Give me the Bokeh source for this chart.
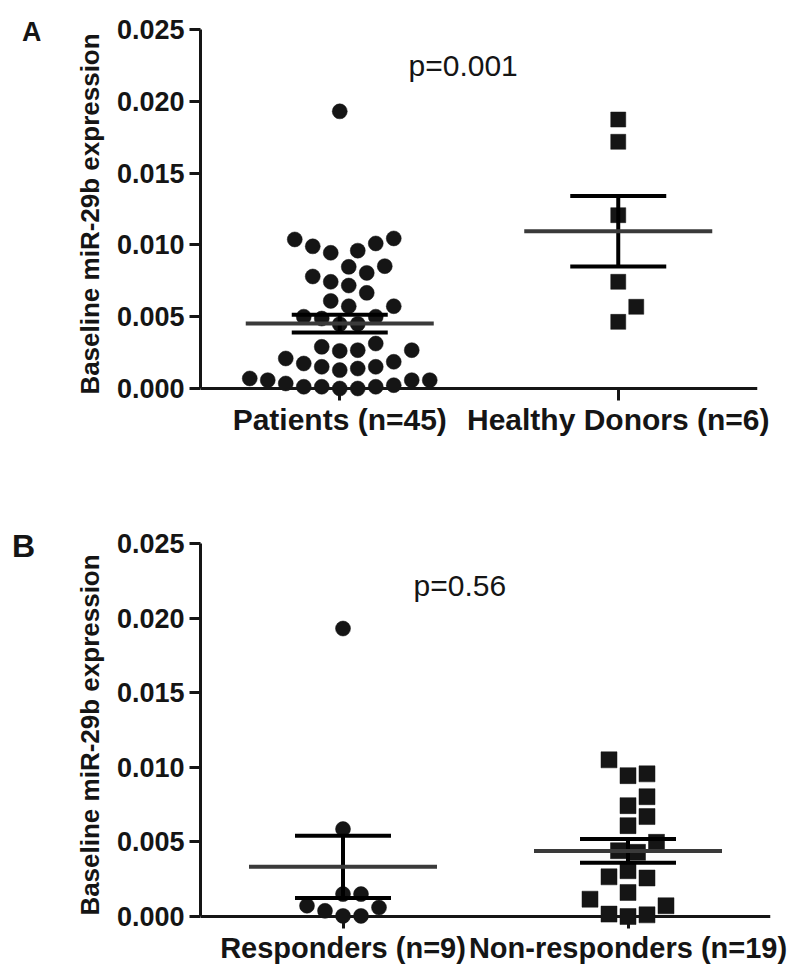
import math
from bokeh.plotting import figure
from bokeh.models import FixedTicker, PrintfTickFormatter, Span, Label, ColumnDataSource, Div
from bokeh.layouts import column, row
from bokeh.embed import file_html
from bokeh.resources import INLINE

# ---------------- data ----------------
y_ticks = [0.000, 0.005, 0.010, 0.015, 0.020, 0.025]
y_label = "Baseline miR-29b expression"

a_groups = ["Patients (n=45)", "Healthy Donors (n=6)"]
patients = [0.0193, 0.01045, 0.0101, 0.0096, 0.00945, 0.0099, 0.01038,
            0.00847, 0.0078, 0.00717, 0.00743, 0.00805, 0.00852, 0.00666,
            0.00573, 0.00573, 0.0061, 0.0050, 0.0045, 0.00448, 0.00487, 0.0050,
            0.00267, 0.00209, 0.0029, 0.00313, 0.00186, 0.00262, 0.00267,
            0.00139, 0.00174, 0.00151, 0.00128, 0.00151,
            0.00058, 0.00012, 0.0007, 0.00012, 0.00058, 0.0, 0.00035,
            0.00012, 0.0, 0.00023, 0.00058]
healthy = [0.01873, 0.01718, 0.01207, 0.00743, 0.00569, 0.00464]
a_pvalue = "p=0.001"

b_groups = ["Responders (n=9)", "Non-responders (n=19)"]
responders = [0.0193, 0.00586, 0.0015, 0.0015, 0.00072, 0.0006, 0.00038,
              0.00004, 0.00004]
nonresponders = [0.0105, 0.00956, 0.00944, 0.00803, 0.00743, 0.0067, 0.00609,
                 0.00497, 0.00441, 0.0043, 0.00307, 0.00258, 0.00266, 0.00116,
                 0.00161, 0.00072, 0.00016, 0.0, 0.00011]
b_pvalue = "p=0.56"

FONT = "Liberation Sans"
INK = "#151515"
DIV_W = 40


def swarm(vals, ppx, ppy, dmin, step):
    n = len(vals)
    order = sorted(range(n), key=lambda i: vals[i])
    cands = [0.0]
    for k in range(1, 80):
        cands += [k * step, -k * step]
    placed = []
    offs = [0.0] * n
    for i in order:
        yy = vals[i] * ppy
        chosen = cands[-1]
        for c in cands:
            if all((c - px) ** 2 + (yy - py) ** 2 >= dmin ** 2 for px, py in placed):
                chosen = c
                break
        placed.append((chosen, yy))
        offs[i] = chosen / ppx
    return offs


def mean_sem(v):
    n = len(v)
    m = sum(v) / n
    sd = math.sqrt(sum((x - m) ** 2 for x in v) / (n - 1))
    return m, sd / math.sqrt(n)


def make_panel(groups, series, markers, msize, pvalue, p_px, xlab_size,
               frame_w, span_px, top, bottom, right, label_standoff):
    ppy = span_px / 0.025
    ppx = frame_w / 2.0
    pad = 10
    p = figure(frame_width=frame_w, frame_height=span_px + pad,
               x_range=(0.5, 2.5), y_range=(-pad / ppy, 0.025),
               output_backend="svg", toolbar_location=None,
               min_border_left=200 - DIV_W, min_border_right=right,
               min_border_top=top, min_border_bottom=bottom)
    p.outline_line_color = None
    p.xgrid.visible = False
    p.ygrid.visible = False
    p.background_fill_color = "white"
    p.border_fill_color = "white"

    # y axis
    ya = p.yaxis[0]
    ya.ticker = FixedTicker(ticks=y_ticks)
    ya.formatter = PrintfTickFormatter(format="%.3f")
    ya.bounds = (0, 0.025)
    ya.axis_line_width = 3
    ya.axis_line_color = INK
    ya.major_tick_line_width = 3
    ya.major_tick_line_color = INK
    ya.major_tick_out = 11
    ya.major_tick_in = 0
    ya.minor_tick_line_color = None
    ya.major_label_text_font = FONT
    ya.major_label_text_font_style = "bold"
    ya.major_label_text_font_size = "27px"
    ya.major_label_text_color = INK
    ya.major_label_standoff = 5
    ya.axis_label = y_label
    ya.axis_label_text_font = FONT
    ya.axis_label_text_font_style = "bold"
    ya.axis_label_text_font_size = "26px"
    ya.axis_label_text_color = INK
    ya.axis_label_standoff = 9

    # x axis
    xa = p.xaxis[0]
    xa.ticker = FixedTicker(ticks=[1, 2])
    xa.major_label_overrides = {1: groups[0], 2: groups[1]}
    xa.axis_line_color = None
    xa.major_tick_line_width = 3
    xa.major_tick_line_color = INK
    xa.major_tick_in = pad
    xa.major_tick_out = 2
    xa.minor_tick_line_color = None
    xa.major_label_text_font = FONT
    xa.major_label_text_font_style = "bold"
    xa.major_label_text_font_size = xlab_size
    xa.major_label_text_color = INK
    xa.major_label_standoff = label_standoff

    p.add_layout(Span(location=0, dimension="width", line_color=INK, line_width=3))

    for gi, (vals, mk, ms) in enumerate(zip(series, markers, msize)):
        pos = gi + 1
        offs = swarm(vals, ppx, ppy, dmin=ms + 3, step=(ms + 3) / 2.0)
        src = ColumnDataSource(dict(x=[pos + o for o in offs], y=vals))
        p.scatter("x", "y", source=src, marker=mk, size=ms,
                  fill_color=INK, line_color=INK, line_width=0.5)

    for gi, vals in enumerate(series):
        pos = gi + 1
        m, s = mean_sem(vals)
        mean_half = 94 / ppx
        cap_half = 48 / ppx
        seg = ColumnDataSource(dict(
            x0=[pos - cap_half, pos - cap_half, pos],
            x1=[pos + cap_half, pos + cap_half, pos],
            y0=[m + s, m - s, m - s],
            y1=[m + s, m - s, m + s]))
        p.segment("x0", "y0", "x1", "y1", source=seg, line_color="black", line_width=4)
        p.segment(x0=[pos - mean_half], y0=[m], x1=[pos + mean_half], y1=[m],
                  line_color="#3a3a3a", line_width=4)

    # p-value text (pixel offset from frame left / from y = 0)
    p.add_layout(Label(x=0.5 + p_px[0] / ppx, y=p_px[1] / ppy, text=pvalue,
                       text_font=FONT, text_font_size="30px",
                       text_color=INK, text_align="left", text_baseline="alphabetic"))
    return p


def letter_div(letter, size, pad_left, pad_top, height):
    html = ('<div style="font-family:\'Liberation Sans\';font-weight:bold;'
            'font-size:%dpx;line-height:%dpx;color:%s;padding-left:%dpx;'
            'padding-top:%dpx;">%s</div>' % (size, size, INK, pad_left, pad_top, letter))
    return Div(text=html, width=DIV_W, height=height, margin=0)


pA = make_panel(a_groups, [patients, healthy], ["circle", "square"], [15, 15],
                a_pvalue, (208, 323), "30px",
                frame_w=557, span_px=359, top=29, bottom=70, right=35,
                label_standoff=2)
pB = make_panel(b_groups, [responders, nonresponders], ["circle", "square"], [15, 16],
                b_pvalue, (213, 331), "29px",
                frame_w=570, span_px=373, top=75, bottom=46, right=30,
                label_standoff=3)

rowA = row(letter_div("A", 27, 22, 19, 468), pA, spacing=0)
rowB = row(letter_div("B", 32, 12, 62, 504), pB, spacing=0)
layout = column(rowA, rowB, spacing=0)
open("out.html", "w").write(file_html(layout, INLINE))
